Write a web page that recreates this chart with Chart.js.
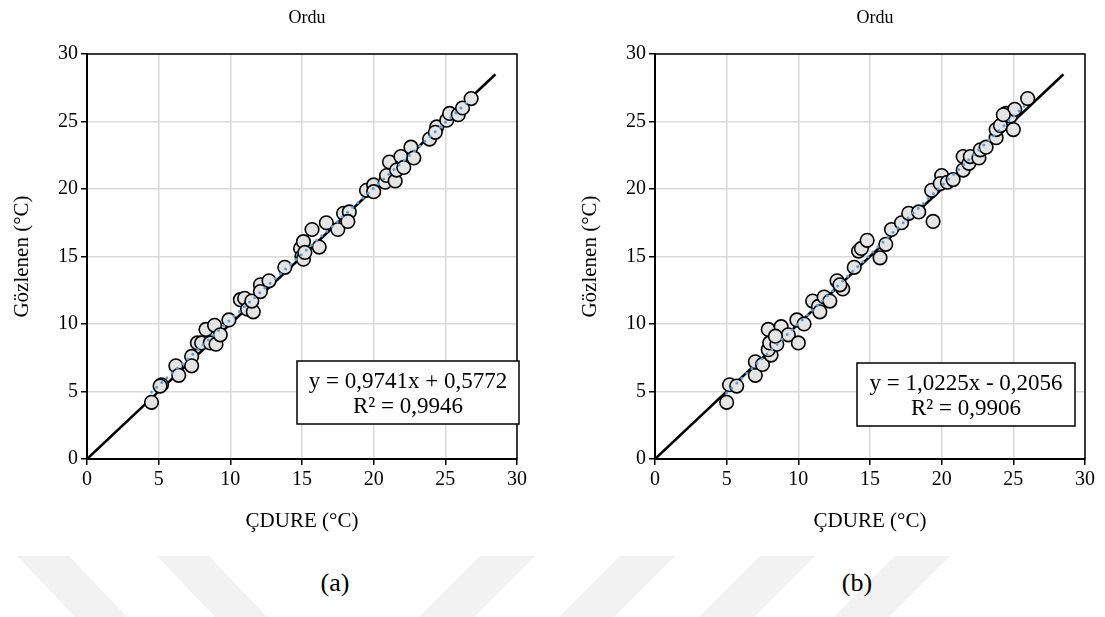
<!DOCTYPE html>
<html>
<head>
<meta charset="utf-8">
<script src="https://cdn.jsdelivr.net/npm/chart.js@4.4.1/dist/chart.umd.min.js"></script>
<style>
    html, body { margin: 0; padding: 0; background: #fff; overflow: hidden; }
    body { width: 1105px; height: 617px; position: relative; font-family: 'Liberation Serif', 'Times New Roman', serif; }
    .pane { position: absolute; top: 0; }
    .wm { position: absolute; left: 0; top: 0; width: 1105px; height: 617px; background: #f2f2f2; }
    .cap { position: absolute; top: 568px; width: 60px; text-align: center; font-size: 26px; line-height: 30px; color: #000; }
</style>
</head>
<body>
<div class="wm" style="clip-path: polygon(17px 556px, 69px 556px, 127px 617px, 75px 617px)"></div>
<div class="wm" style="clip-path: polygon(157px 556px, 209px 556px, 267px 617px, 215px 617px)"></div>
<div class="wm" style="clip-path: polygon(480px 556px, 535px 556px, 474px 617px, 419px 617px)"></div>
<div class="wm" style="clip-path: polygon(620px 556px, 675px 556px, 614px 617px, 559px 617px)"></div>
<div class="wm" style="clip-path: polygon(760px 556px, 815px 556px, 754px 617px, 699px 617px)"></div>
<div class="wm" style="clip-path: polygon(895px 556px, 950px 556px, 889px 617px, 834px 617px)"></div>

<canvas id="chartA" class="pane" width="537" height="545" style="left:0"></canvas>
<canvas id="chartB" class="pane" width="537" height="545" style="left:568px"></canvas>
<div class="cap" style="left:305px">(a)</div>
<div class="cap" style="left:827px">(b)</div>

<script>
// ── datos ──
const axisTicks = [0, 5, 10, 15, 20, 25, 30];
const identityLine = [0, 28.5];

// (a) ÇDURE vs Gözlenen
const cdureA = [4.5, 5.2, 5.1, 6.2, 6.4, 7.3, 7.3, 7.7, 8.0, 8.3, 8.6, 9.0, 8.9, 9.3, 9.9,
    10.7, 11.0, 11.2, 11.6, 11.5, 12.1, 12.1, 12.7, 13.8, 14.9, 15.0, 15.1, 15.1, 15.2, 15.7,
    16.2, 16.7, 17.5, 17.9, 18.3, 18.2, 19.5, 20.0, 20.0, 20.8, 20.9, 21.5, 21.1, 21.6, 21.9,
    22.1, 22.6, 22.8, 23.9, 24.4, 24.3, 25.1, 25.3, 25.9, 26.2, 26.8];
const gozlenenA = [4.2, 5.5, 5.4, 6.9, 6.2, 7.6, 6.9, 8.6, 8.6, 9.6, 8.6, 8.5, 9.9, 9.2, 10.3,
    11.8, 11.9, 11.1, 10.9, 11.7, 12.9, 12.4, 13.2, 14.2, 15.6, 15.0, 16.1, 14.8, 15.3, 17.0,
    15.7, 17.5, 17.0, 18.2, 18.3, 17.6, 19.9, 20.3, 19.8, 20.5, 21.0, 20.6, 22.0, 21.4, 22.4,
    21.6, 23.1, 22.3, 23.7, 24.6, 24.2, 25.1, 25.6, 25.5, 26.0, 26.7];
const slopeA = 0.9741;
const interceptA = 0.5772;

// (b) ÇDURE vs Gözlenen
const cdureB = [5.0, 5.2, 5.7, 7.0, 7.0, 7.5, 8.1, 7.9, 8.0, 8.5, 7.9, 8.8, 9.3, 8.4, 10.0,
    9.9, 10.4, 11.0, 11.4, 11.5, 11.8, 12.2, 12.7, 13.1, 12.9, 13.9, 14.2, 14.4, 14.8, 15.7,
    16.1, 16.5, 17.2, 17.7, 18.4, 19.4, 19.3, 20.0, 19.9, 20.4, 20.8, 21.5, 21.5, 21.9, 22.0,
    22.6, 22.7, 23.1, 23.8, 23.8, 24.1, 25.0, 24.5, 24.8, 25.1, 24.3, 26.0];
const gozlenenB = [4.2, 5.5, 5.4, 6.2, 7.2, 7.0, 7.7, 8.1, 8.6, 8.5, 9.6, 9.8, 9.2, 9.1, 8.6,
    10.3, 10.0, 11.7, 11.3, 10.9, 12.0, 11.7, 13.2, 12.6, 12.9, 14.2, 15.4, 15.6, 16.2, 14.9,
    15.9, 17.0, 17.5, 18.2, 18.3, 17.6, 19.9, 21.0, 20.4, 20.5, 20.7, 21.4, 22.4, 21.9, 22.4,
    22.3, 22.9, 23.1, 23.8, 24.4, 24.7, 24.4, 25.6, 25.4, 25.9, 25.5, 26.7];
const slopeB = 1.0225;
const interceptB = -0.2056;

const serif = "'Liberation Serif', 'Times New Roman', serif";
Chart.defaults.color = '#000';
Chart.defaults.font.family = serif;

// ── plugins ──
const frame = {
    id: 'frame',
    beforeDatasetsDraw(chart) {
        const { ctx, chartArea: a } = chart;
        ctx.save();
        ctx.strokeStyle = '#000';
        ctx.lineWidth = 1.5;
        ctx.strokeRect(a.left, a.top, a.right - a.left, a.bottom - a.top);
        ctx.restore();
    }
};

const labels = {
    id: 'labels',
    afterDraw(chart, args, opts) {
        const { ctx, chartArea: a } = chart;
        ctx.save();
        ctx.fillStyle = '#000';
        ctx.textAlign = 'center';
        ctx.textBaseline = 'middle';
        ctx.font = `18px ${serif}`;
        ctx.fillText(opts.title, (a.left + a.right) / 2 + 5, 18);

        const b = opts.box;
        const x0 = a.right + b.dx - b.w;
        ctx.fillStyle = '#fff';
        ctx.fillRect(x0, b.top, b.w, b.h);
        ctx.strokeStyle = '#000';
        ctx.lineWidth = 1.5;
        ctx.strokeRect(x0, b.top, b.w, b.h);
        ctx.fillStyle = '#000';
        ctx.font = `23px ${serif}`;
        ctx.fillText(opts.eq, x0 + b.w / 2, b.top + 21);
        ctx.fillText(opts.r2, x0 + b.w / 2, b.top + 46);
        ctx.restore();
    }
};

function points(xs, ys) {
    return xs.map((x, i) => ({ x, y: ys[i] }));
}

function trendPoints(xs, slope, intercept) {
    const ends = [Math.min(...xs), Math.max(...xs)];
    return ends.map(x => ({ x, y: slope * x + intercept }));
}

function axis(title, isX) {
    return {
        type: 'linear',
        min: 0, max: 30,
        afterBuildTicks: s => { s.ticks = axisTicks.map(v => ({ value: v })); },
        afterFit: s => { if (isX) s.height = 86; else s.width = 87; },
        ticks: { font: { size: 20 }, color: '#000', padding: 3 },
        grid: { color: '#d9d9d9', lineWidth: 1.5, tickColor: '#000', tickLength: 6, tickWidth: 1.5 },
        border: { color: '#000', width: 2 },
        title: {
            display: true, text: title, color: '#000',
            font: { size: 21 },
            padding: isX ? { top: 0, bottom: 11 } : { top: 10, bottom: 0 }
        }
    };
}

function createScatter(el, xs, ys, slope, intercept, eq, r2, box) {
    return new Chart(el, {
        type: 'scatter',
        data: {
            datasets: [
                {
                    type: 'line',
                    data: identityLine.map(v => ({ x: v, y: v })),
                    borderColor: '#000', borderWidth: 2.5,
                    pointRadius: 0, order: 3
                },
                {
                    data: points(xs, ys),
                    backgroundColor: '#e4e4e4', borderColor: '#000',
                    borderWidth: 1.6, pointRadius: 6.8, order: 2
                },
                {
                    type: 'line',
                    data: trendPoints(xs, slope, intercept),
                    borderColor: '#5b9bd5', borderWidth: 3,
                    borderDash: [0, 7], borderCapStyle: 'round',
                    pointRadius: 0, order: 1
                }
            ]
        },
        options: {
            responsive: false,
            animation: false,
            layout: { padding: { top: 54, right: 20, left: 0, bottom: 0 } },
            plugins: {
                legend: { display: false },
                tooltip: { enabled: false },
                labels: { title: 'Ordu', eq, r2, box }
            },
            scales: {
                x: axis('ÇDURE (°C)', true),
                y: axis('Gözlenen (°C)', false)
            }
        },
        plugins: [frame, labels]
    });
}

createScatter(document.getElementById('chartA'), cdureA, gozlenenA, slopeA, interceptA,
    'y = 0,9741x + 0,5772', 'R² = 0,9946', { dx: 2, top: 361, w: 222, h: 63 });

createScatter(document.getElementById('chartB'), cdureB, gozlenenB, slopeB, interceptB,
    'y = 1,0225x - 0,2056', 'R² = 0,9906', { dx: -10, top: 363, w: 218, h: 63 });
</script>
</body>
</html>
